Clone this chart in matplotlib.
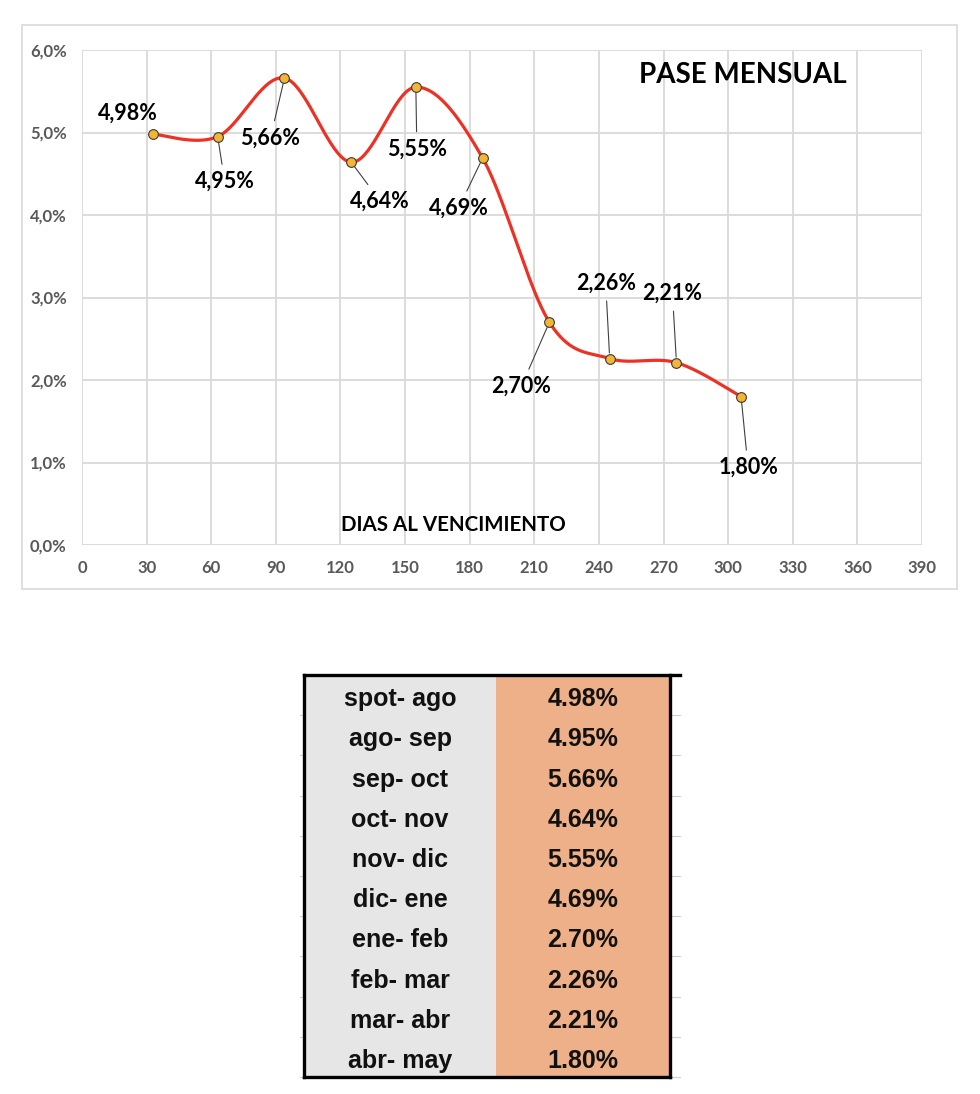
import numpy as np
import matplotlib
matplotlib.use("Agg")
import matplotlib.pyplot as plt
from matplotlib.patches import Rectangle
from matplotlib.lines import Line2D

# ---------------- data ----------------
dias = [33, 63, 94, 125, 155, 186, 217, 245, 276, 306]
pase = [4.98, 4.95, 5.66, 4.64, 5.55, 4.69, 2.70, 2.26, 2.21, 1.80]
etiquetas = ["4,98%", "4,95%", "5,66%", "4,64%", "5,55%", "4,69%",
             "2,70%", "2,26%", "2,21%", "1,80%"]
periodos = ["spot- ago", "ago- sep", "sep- oct", "oct- nov", "nov- dic",
            "dic- ene", "ene- feb", "feb- mar", "mar- abr", "abr- may"]
tabla_vals = ["4.98%", "4.95%", "5.66%", "4.64%", "5.55%", "4.69%",
              "2.70%", "2.26%", "2.21%", "1.80%"]
xticks = list(range(0, 391, 30))
yticks = [0, 1, 2, 3, 4, 5, 6]
ytick_labels = ["0,0%", "1,0%", "2,0%", "3,0%", "4,0%", "5,0%", "6,0%"]
titulo = "PASE MENSUAL"
xlabel = "DIAS AL VENCIMIENTO"

# label offsets (pixels, relative to point) and whether a leader line is drawn
label_off = [(-25, 21), (7, -45), (-14, -60), (29, -39), (1, -62),
             (-24, -50), (-28, -64), (-4, 75), (-4, 69), (7, -71)]
leader = [False, True, True, True, True, True, True, True, True, True]

FONT = ["Lato", "DejaVu Sans"]
plt.rcParams["font.family"] = FONT

W, H = 980, 1094
fig = plt.figure(figsize=(W / 100, H / 100), dpi=100)
fig.patch.set_facecolor("white")

# outer chart border
fig.patches.append(Rectangle((22 / W, 1 - 589 / H), (957 - 22) / W, (589 - 25) / H,
                             transform=fig.transFigure, fill=False,
                             edgecolor="#D9D9D9", lw=1.2))

ax = fig.add_axes([82 / W, 1 - 545 / H, (922 - 82) / W, (545 - 50) / H])
ax.set_xlim(0, 390)
ax.set_ylim(0, 6)
ax.set_xticks(xticks)
ax.set_yticks(yticks)
ax.set_yticklabels(ytick_labels)
for s in ax.spines.values():
    s.set_visible(False)
ax.grid(True, color="#D9D9D9", lw=1.3)
ax.set_axisbelow(True)
ax.tick_params(length=0, labelsize=12, labelcolor="#595959", pad=11)
for lab in ax.get_xticklabels() + ax.get_yticklabels():
    lab.set_fontweight("bold")

# smooth curve (Catmull-Rom style Bezier, like Excel smoothed line)
P = np.column_stack([dias, pase]).astype(float)
Pe = np.vstack([P[0], P, P[-1]])
t = np.linspace(0, 1, 40)[:, None]
curve = []
for i in range(len(P) - 1):
    p0, p1, p2, p3 = Pe[i], Pe[i + 1], Pe[i + 2], Pe[i + 3]
    c1 = p1 + (p2 - p0) / 6
    c2 = p2 - (p3 - p1) / 6
    seg = ((1 - t) ** 3) * p1 + 3 * ((1 - t) ** 2) * t * c1 + 3 * (1 - t) * t ** 2 * c2 + t ** 3 * p2
    curve.append(seg)
curve = np.vstack(curve)
ax.plot(curve[:, 0], curve[:, 1], color="#EE3124", lw=2.3, zorder=3, solid_capstyle="round")
ax.plot(dias, pase, linestyle="none", marker="o", markersize=7,
        markerfacecolor="#F2B632", markeredgecolor="#3A3A3A", markeredgewidth=0.8, zorder=4)

for x, y, lab, off, ld in zip(dias, pase, etiquetas, label_off, leader):
    kw = dict(textcoords="offset pixels", ha="center", va="center",
              fontsize=15.5, fontweight="bold", color="black", zorder=5)
    if ld:
        kw["arrowprops"] = dict(arrowstyle="-", color="#404040", lw=0.8,
                                shrinkA=3, shrinkB=4)
    ax.annotate(lab, xy=(x, y), xytext=off, **kw)

fig.text(743 / W, 1 - 75 / H, titulo, ha="center", va="center",
         fontsize=20, fontweight="bold", color="black")
fig.text(453 / W, 1 - 525 / H, xlabel, ha="center", va="center",
         fontsize=14.8, fontweight="bold", color="black")

# ---------------- table ----------------
tx0, tx1, ty0, ty1 = 304, 670, 675, 1077
tab = fig.add_axes([tx0 / W, 1 - ty1 / H, (tx1 - tx0) / W, (ty1 - ty0) / H])
tab.set_xlim(0, 1)
tab.set_ylim(len(periodos), 0)
tab.axis("off")
split = (496 - tx0) / (tx1 - tx0)
n = len(periodos)
tab.add_patch(Rectangle((0, 0), split, n, facecolor="#E7E6E6", edgecolor="none"))
tab.add_patch(Rectangle((split, 0), 1 - split, n, facecolor="#EDB088", edgecolor="none"))
TF = ["Liberation Sans", "DejaVu Sans"]
for i, (p, v) in enumerate(zip(periodos, tabla_vals)):
    tab.text(split / 2, i + 0.6, p, ha="center", va="center", fontsize=18,
             fontweight="bold", family=TF, color="#111111")
    tab.text(split + (1 - split) / 2, i + 0.6, v, ha="center", va="center", fontsize=18,
             fontweight="bold", family=TF, color="#111111")
# faint sheet gridlines outside table
ext = (680 - tx0) / (tx1 - tx0)
for i in range(1, n + 1):
    tab.add_line(Line2D([-0.012, 0], [i, i], color="#D0D0D0", lw=0.8, clip_on=False))
    tab.add_line(Line2D([1, ext], [i, i], color="#D0D0D0", lw=0.8, clip_on=False))
# borders
bk = dict(color="black", lw=2.4, clip_on=False, solid_capstyle="projecting")
tab.add_line(Line2D([0, ext], [0, 0], **bk))
tab.add_line(Line2D([0, 1], [n, n], **bk))
tab.add_line(Line2D([0, 0], [0, n], **bk))
tab.add_line(Line2D([1, 1], [0, n], **bk))

fig.savefig("out.png", dpi=100, facecolor="white")
